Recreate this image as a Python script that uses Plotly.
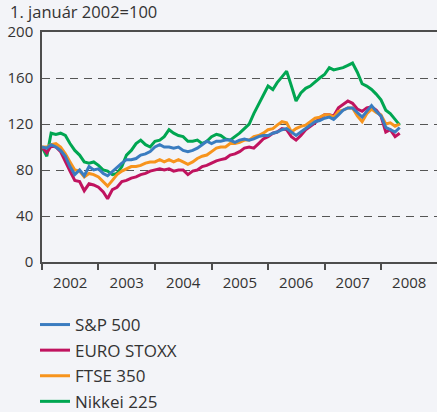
import plotly.graph_objects as go
import pandas as pd

# Monthly observations, January 2002 = 100
months = pd.date_range("2002-01-01", "2008-05-01", freq="MS").strftime("%Y-%m-%d").tolist()

sp500 = [100, 99, 102, 100, 97, 92, 83, 76, 80, 75, 83, 80,
         81, 77, 75, 79, 82, 86, 89, 89, 90, 93, 94, 96,
         100, 102, 100, 100, 99, 100, 97, 96, 97, 99, 102, 105,
         103, 105, 105, 106, 106, 104, 106, 107, 106, 107, 109, 110,
         110, 112, 113, 115, 116, 113, 110, 113, 116, 119, 122, 123,
         125, 126, 124, 128, 132, 134, 134, 130, 126, 131, 136, 131,
         127, 117, 115, 113, 117]

eurostoxx = [100, 95, 101, 100, 96, 87, 79, 71, 70, 62, 68, 67,
             65, 61, 55, 63, 65, 70, 71, 73, 74, 76, 77, 79,
             80, 81, 80, 81, 79, 80, 80, 76, 79, 80, 83, 84,
             86, 88, 89, 90, 93, 94, 96, 99, 100, 99, 103, 107,
             109, 112, 113, 116, 115, 109, 106, 110, 115, 118, 121, 125,
             128, 128, 127, 134, 137, 140, 138, 133, 131, 134, 135, 132,
             127, 113, 115, 109, 112]

ftse350 = [100, 100, 102, 103, 100, 94, 87, 80, 79, 74, 77, 76,
           74, 70, 66, 71, 76, 79, 81, 83, 83, 84, 86, 87,
           87, 89, 87, 89, 87, 89, 87, 85, 87, 90, 92, 93,
           96, 99, 100, 100, 103, 103, 104, 106, 106, 109, 110, 112,
           115, 116, 119, 122, 121, 113, 116, 118, 119, 122, 125, 126,
           128, 128, 126, 131, 132, 134, 134, 127, 122, 129, 133, 130,
           128, 120, 121, 118, 120]

nikkei225 = [100, 92, 112, 111, 112, 110, 103, 97, 93, 87, 86, 87,
             84, 80, 79, 76, 77, 83, 93, 97, 103, 106, 102, 100,
             105, 106, 109, 115, 112, 110, 109, 105, 105, 106, 103, 105,
             109, 111, 110, 107, 106, 109, 112, 116, 120, 129, 137, 145,
             153, 150, 156, 161, 166, 153, 140, 147, 151, 153, 157, 160,
             163, 169, 167, 168, 169, 171, 173, 165, 155, 153, 150, 146,
             141, 132, 129, 124, 119]

series_names = ["S&P 500", "EURO STOXX", "FTSE 350", "Nikkei 225"]
y_ticks = [0, 40, 80, 120, 160, 200]
title_text = "1. január 2002=100"

colors = {"S&P 500": "#3a7cc0", "EURO STOXX": "#c0135f",
          "FTSE 350": "#f7941d", "Nikkei 225": "#00a651"}
data = {"S&P 500": sp500, "EURO STOXX": eurostoxx,
        "FTSE 350": ftse350, "Nikkei 225": nikkei225}

fig = go.Figure()
# draw order: Nikkei at bottom, S&P on top
for rank, name in zip([4, 2, 3, 1], ["Nikkei 225", "EURO STOXX", "FTSE 350", "S&P 500"]):
    fig.add_trace(go.Scatter(
        x=months, y=data[name], mode="lines", name=name,
        line=dict(color=colors[name], width=3),
        legendrank=rank, legendgroup=name,
    ))

axis_col = "#4d4d4d"
bg = "#f3f4f8"
fig.update_layout(
    width=437, height=412,
    margin=dict(l=42, r=0, t=32, b=150, autoexpand=False),
    paper_bgcolor=bg, plot_bgcolor=bg,
    font=dict(family="Open Sans", size=15, color="#333333"),
    title=dict(text=title_text, x=10 / 437, xanchor="left",
               y=1 - 12 / 412, yanchor="middle",
               font=dict(size=16.5, color="#333333")),
    showlegend=True,
    legend=dict(orientation="v", xref="container", yref="container",
                x=35 / 437, xanchor="left", y=1 - 307 / 412, yanchor="top",
                bgcolor="rgba(0,0,0,0)", tracegroupgap=0.5,
                font=dict(size=17, color="#333333")),
    xaxis=dict(
        type="date", range=["2002-01-01", "2008-12-28"],
        tick0="2002-01-01", dtick="M12", tickformat="%Y",
        ticklabelmode="period", ticks="outside", ticklen=6, tickwidth=1.5,
        tickcolor=axis_col,
        showline=True, linecolor=axis_col, linewidth=1.5, mirror=True,
        showgrid=False, zeroline=False,
    ),
    yaxis=dict(
        range=[0, 200], tickvals=y_ticks, ticks="",
        showline=True, linecolor=axis_col, linewidth=1.5,
        showgrid=True, gridcolor="#555555", gridwidth=1.2, griddash="8px,6px",
        zeroline=False, ticklabelstandoff=4,
    ),
)

fig.write_html(
    "out.html",
    config={"displayModeBar": False},
    post_script="document.body.style.margin='0';document.body.style.background='%s';" % bg,
)
